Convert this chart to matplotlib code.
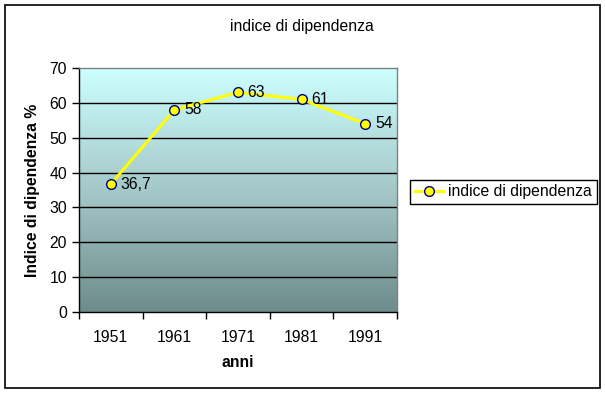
import numpy as np
from matplotlib import pyplot as plt
from matplotlib.colors import LinearSegmentedColormap
from matplotlib.patches import Rectangle

plt.rcParams['font.family'] = ['Liberation Sans', 'DejaVu Sans']

anni = ['1951', '1961', '1971', '1981', '1991']
valori = [36.7, 58, 63, 61, 54]
etichette = ['36,7', '58', '63', '61', '54']

fs = 11.3

fig = plt.figure(figsize=(6.05, 3.93), dpi=100)
ax = fig.add_axes([79/605, 1 - 312/393, (397-79)/605, (312-68)/393])

# outer chart border
fig.patches.append(Rectangle((5/605, 5/393), 595/605, 383/393, transform=fig.transFigure,
                             fill=False, edgecolor='black', linewidth=1.2))

x = np.arange(len(anni))
ax.set_xlim(-0.5, len(anni) - 0.5)
ax.set_ylim(0, 70)

# gradient background
cmap = LinearSegmentedColormap.from_list('bg', ['#6E8C8C', '#A5C8C8', '#CCFFFF'])
grad = np.linspace(0, 1, 256).reshape(-1, 1)
ax.imshow(grad, aspect='auto', cmap=cmap, origin='lower',
          extent=[-0.5, len(anni) - 0.5, 0, 70], zorder=0)

for y in range(10, 70, 10):
    ax.axhline(y, color='black', linewidth=1, zorder=1)

ax.plot(x, valori, '-o', color='#FFFF00', linewidth=2.2, markersize=7,
        markerfacecolor='#FFFF00', markeredgecolor='#000080', markeredgewidth=1,
        label='indice di dipendenza', zorder=3)

for xi, v, t in zip(x, valori, etichette):
    ax.annotate(t, (xi, v), xytext=(7, 0), textcoords='offset points',
                va='center', ha='left', fontsize=fs, zorder=4)

ax.set_yticks(range(0, 80, 10))
ax.set_xticks(x)
ax.set_xticklabels(anni, fontsize=fs)
ax.set_xticks(np.arange(-0.5, len(anni)), minor=True)
ax.tick_params(axis='x', which='major', length=0, pad=13)
ax.tick_params(axis='x', which='minor', length=5, direction='out', width=1)
ax.tick_params(axis='y', length=5, direction='out', labelsize=fs, width=1)

ax.spines['left'].set_color('black')
ax.spines['bottom'].set_color('black')
ax.spines['top'].set_color('#808080')
ax.spines['right'].set_color('#808080')
for s in ax.spines.values():
    s.set_linewidth(1)

ax.set_xlabel('anni', fontsize=fs, fontweight='bold', labelpad=7)
ax.set_ylabel('Indice di dipendenza %', fontsize=fs, fontweight='bold', labelpad=7)

fig.text(302/605, 1 - 27/393, 'indice di dipendenza', ha='center', va='center', fontsize=fs)

leg = fig.legend(loc='center', bbox_to_anchor=(503.5/605, 1 - 192/393), fontsize=fs,
                 frameon=True, fancybox=False, edgecolor='black', framealpha=1,
                 handlelength=1.8, borderpad=0.3, handletextpad=0.3, borderaxespad=0)
leg.get_frame().set_linewidth(1)

fig.savefig('out.png', dpi=100)
